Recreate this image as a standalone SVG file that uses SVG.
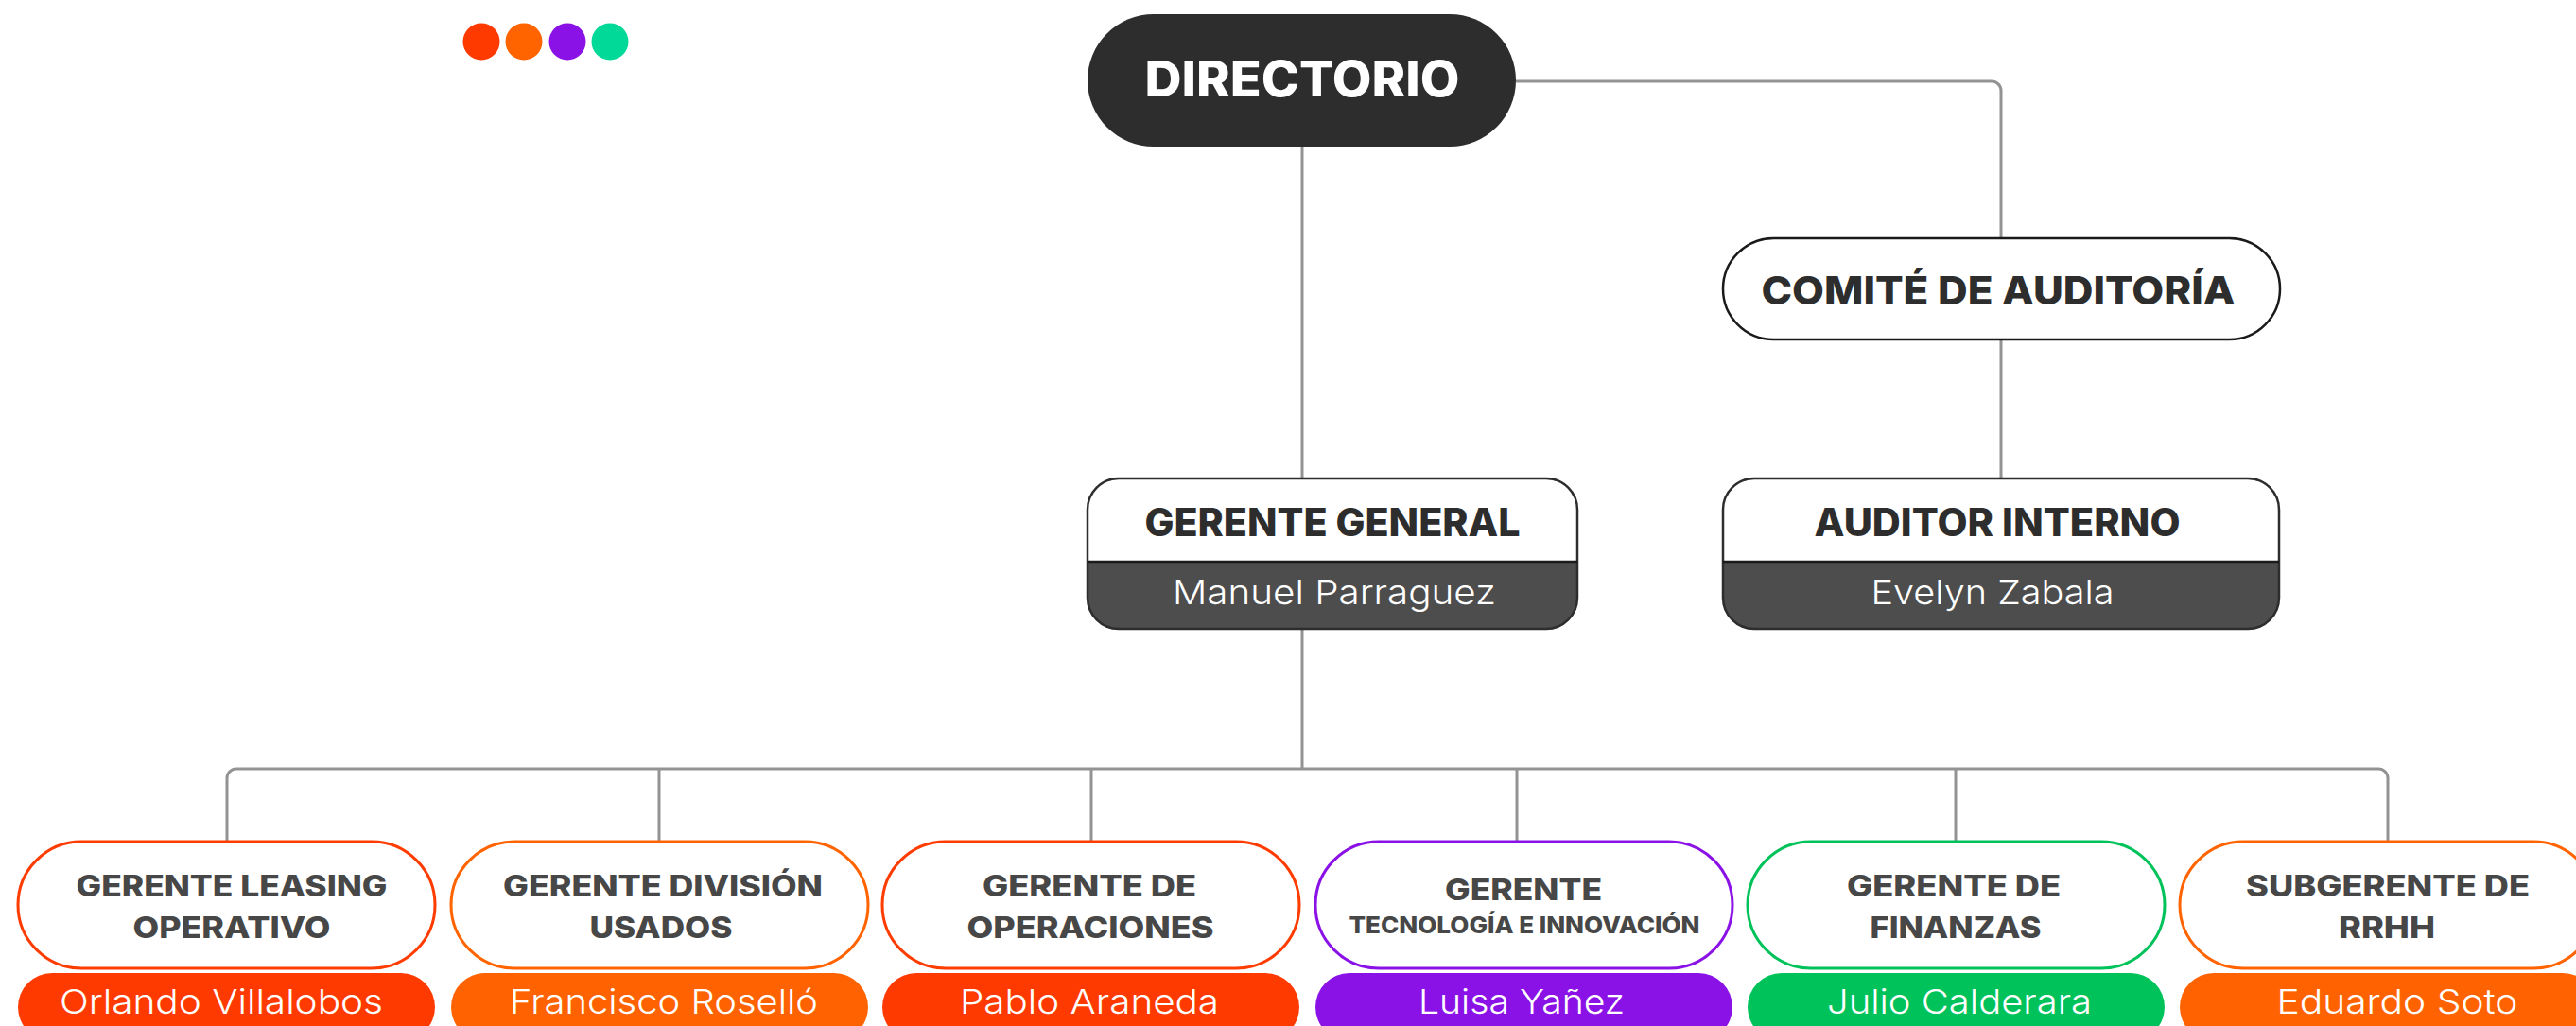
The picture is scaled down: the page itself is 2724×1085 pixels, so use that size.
<svg xmlns="http://www.w3.org/2000/svg" width="2724" height="1085" viewBox="0 0 2724 1085">
<style>
.conn{fill:none;stroke:#939393;stroke-width:3}
.bold{font-family:"Inter","Open Sans","Liberation Sans",sans-serif;font-weight:800;text-anchor:middle}
.light{font-family:"Inter","Open Sans","Liberation Sans",sans-serif;font-weight:300;text-anchor:middle;fill:#ffffff}
.dark{fill:#2d2d2d}
.ttl{fill:#474747;font-size:31px}
.nm{font-size:36px}
.box{fill:#ffffff;stroke-width:3}
</style>
<rect width="2724" height="1085" fill="#ffffff"/>
<g id="dots">
<circle cx="509" cy="44" r="19.5" fill="#ff3a00"/>
<circle cx="554" cy="44" r="19.5" fill="#ff6400"/>
<circle cx="600" cy="44" r="19.5" fill="#8a12e6"/>
<circle cx="645" cy="44" r="19.5" fill="#00d998"/>
</g>
<g id="connectors">
<path class="conn" d="M1377,155 V506"/>
<path class="conn" d="M1603,86 H2106 A10,10 0 0 1 2116,96 V252"/>
<path class="conn" d="M2116,359 V506"/>
<path class="conn" d="M1377,665 V813"/>
<path class="conn" d="M240,889 V823 A10,10 0 0 1 250,813 H2515 A10,10 0 0 1 2525,823 V889"/>
<path class="conn" d="M697,813 V889 M1154,813 V889 M1604,813 V889 M2068,813 V889"/>
</g>
<g id="directorio">
<rect x="1150" y="15" width="453" height="140" rx="70" fill="#2d2d2d"/>
<text class="bold" x="1377" y="102" font-size="52" fill="#ffffff" textLength="333" lengthAdjust="spacingAndGlyphs">DIRECTORIO</text>
</g>
<g id="comite">
<rect x="1822" y="252" width="589" height="107" rx="53.5" fill="#ffffff" stroke="#1a1a1a" stroke-width="2.5"/>
<text class="bold dark" x="2113" y="322" font-size="41" textLength="501" lengthAdjust="spacingAndGlyphs">COMITÉ DE AUDITORÍA</text>
</g>
<g id="gerente-general">
<path d="M1150,594 V539 A33,33 0 0 1 1183,506 H1635 A33,33 0 0 1 1668,539 V594 Z" fill="#ffffff"/>
<path d="M1150,594 H1668 V632 A33,33 0 0 1 1635,665 H1183 A33,33 0 0 1 1150,632 Z" fill="#4d4d4d"/>
<rect x="1150" y="506" width="518" height="159" rx="33" fill="none" stroke="#2d2d2d" stroke-width="2.5"/>
<line x1="1150" y1="594" x2="1668" y2="594" stroke="#1a1a1a" stroke-width="2.5"/>
<text class="bold dark" x="1409" y="567" font-size="41" textLength="397" lengthAdjust="spacingAndGlyphs">GERENTE GENERAL</text>
<text class="light" x="1411" y="639" font-size="36" textLength="342" lengthAdjust="spacingAndGlyphs">Manuel Parraguez</text>
</g>
<g id="auditor-interno">
<path d="M1822,594 V539 A33,33 0 0 1 1855,506 H2377 A33,33 0 0 1 2410,539 V594 Z" fill="#ffffff"/>
<path d="M1822,594 H2410 V632 A33,33 0 0 1 2377,665 H1855 A33,33 0 0 1 1822,632 Z" fill="#4d4d4d"/>
<rect x="1822" y="506" width="588" height="159" rx="33" fill="none" stroke="#2d2d2d" stroke-width="2.5"/>
<line x1="1822" y1="594" x2="2410" y2="594" stroke="#1a1a1a" stroke-width="2.5"/>
<text class="bold dark" x="2112" y="567" font-size="41" textLength="387" lengthAdjust="spacingAndGlyphs">AUDITOR INTERNO</text>
<text class="light" x="2107" y="639" font-size="36" textLength="257" lengthAdjust="spacingAndGlyphs">Evelyn Zabala</text>
</g>
<g id="leasing">
<rect class="box" x="19" y="890" width="441" height="134" rx="67" stroke="#ff3c00"/>
<text class="bold ttl" x="245" y="948" textLength="329" lengthAdjust="spacingAndGlyphs">GERENTE LEASING</text>
<text class="bold ttl" x="245" y="992" textLength="209" lengthAdjust="spacingAndGlyphs">OPERATIVO</text>
<rect x="19" y="1029" width="441" height="72" rx="36" fill="#ff3a00"/>
<text class="light nm" x="234" y="1072" textLength="342" lengthAdjust="spacingAndGlyphs">Orlando Villalobos</text>
</g>
<g id="usados">
<rect class="box" x="477" y="890" width="441" height="134" rx="67" stroke="#ff6400"/>
<text class="bold ttl" x="701" y="948" textLength="338" lengthAdjust="spacingAndGlyphs">GERENTE DIVISIÓN</text>
<text class="bold ttl" x="699" y="992" textLength="151" lengthAdjust="spacingAndGlyphs">USADOS</text>
<rect x="477" y="1029" width="441" height="72" rx="36" fill="#ff6200"/>
<text class="light nm" x="702" y="1072" textLength="326" lengthAdjust="spacingAndGlyphs">Francisco Roselló</text>
</g>
<g id="operaciones">
<rect class="box" x="933" y="890" width="441" height="134" rx="67" stroke="#ff3c00"/>
<text class="bold ttl" x="1152" y="948" textLength="226" lengthAdjust="spacingAndGlyphs">GERENTE DE</text>
<text class="bold ttl" x="1153" y="992" textLength="261" lengthAdjust="spacingAndGlyphs">OPERACIONES</text>
<rect x="933" y="1029" width="441" height="72" rx="36" fill="#ff3a00"/>
<text class="light nm" x="1152" y="1072" textLength="274" lengthAdjust="spacingAndGlyphs">Pablo Araneda</text>
</g>
<g id="tecnologia">
<rect class="box" x="1391" y="890" width="441" height="134" rx="67" stroke="#8a12e6"/>
<text class="bold ttl" x="1611" y="952" textLength="166" lengthAdjust="spacingAndGlyphs">GERENTE</text>
<text class="bold" x="1612" y="987" font-size="25" fill="#474747" textLength="371" lengthAdjust="spacingAndGlyphs">TECNOLOGÍA E INNOVACIÓN</text>
<rect x="1391" y="1029" width="441" height="72" rx="36" fill="#8a12e6"/>
<text class="light nm" x="1609" y="1072" textLength="218" lengthAdjust="spacingAndGlyphs">Luisa Yañez</text>
</g>
<g id="finanzas">
<rect class="box" x="1848" y="890" width="441" height="134" rx="67" stroke="#00c25a"/>
<text class="bold ttl" x="2066" y="948" textLength="226" lengthAdjust="spacingAndGlyphs">GERENTE DE</text>
<text class="bold ttl" x="2068" y="992" textLength="181" lengthAdjust="spacingAndGlyphs">FINANZAS</text>
<rect x="1848" y="1029" width="441" height="72" rx="36" fill="#00c25a"/>
<text class="light nm" x="2072" y="1072" textLength="280" lengthAdjust="spacingAndGlyphs">Julio Calderara</text>
</g>
<g id="rrhh">
<rect class="box" x="2305" y="890" width="441" height="134" rx="67" stroke="#ff6400"/>
<text class="bold ttl" x="2525" y="948" textLength="300" lengthAdjust="spacingAndGlyphs">SUBGERENTE DE</text>
<text class="bold ttl" x="2524" y="992" textLength="102" lengthAdjust="spacingAndGlyphs">RRHH</text>
<rect x="2305" y="1029" width="441" height="72" rx="36" fill="#ff6200"/>
<text class="light nm" x="2535" y="1072" textLength="255" lengthAdjust="spacingAndGlyphs">Eduardo Soto</text>
</g>
</svg>
